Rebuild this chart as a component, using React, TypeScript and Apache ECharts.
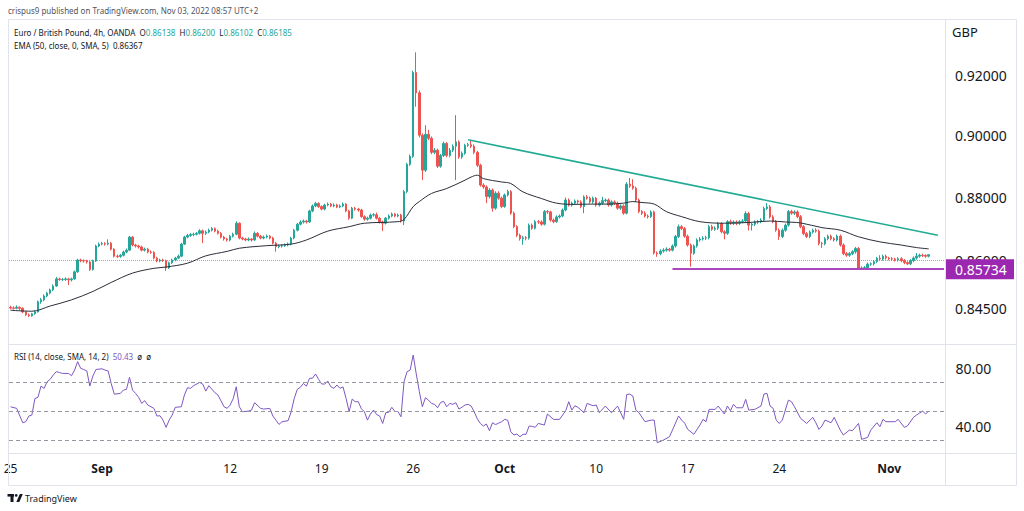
import React, { useEffect, useRef } from "react";
import * as echarts from "echarts";

// ---------- data ----------
const tradingDays = [
  "2022-08-25", "2022-08-26", "2022-08-29", "2022-08-30", "2022-08-31",
  "2022-09-01", "2022-09-02", "2022-09-05", "2022-09-06", "2022-09-07", "2022-09-08", "2022-09-09",
  "2022-09-12", "2022-09-13", "2022-09-14", "2022-09-15", "2022-09-16",
  "2022-09-19", "2022-09-20", "2022-09-21", "2022-09-22", "2022-09-23",
  "2022-09-26", "2022-09-27", "2022-09-28", "2022-09-29", "2022-09-30",
  "2022-10-03", "2022-10-04", "2022-10-05", "2022-10-06", "2022-10-07",
  "2022-10-10", "2022-10-11", "2022-10-12", "2022-10-13", "2022-10-14",
  "2022-10-17", "2022-10-18", "2022-10-19", "2022-10-20", "2022-10-21",
  "2022-10-24", "2022-10-25", "2022-10-26", "2022-10-27", "2022-10-28",
  "2022-10-31", "2022-11-01", "2022-11-02", "2022-11-03", "2022-11-04",
];
const barHours = ["01:00", "05:00", "09:00", "13:00", "17:00", "21:00"];
const futureSlots = 5;

const timeTickLabels: Record<string, string> = {
  "2022-08-25": "25", "2022-09-01": "Sep", "2022-09-12": "12", "2022-09-19": "19",
  "2022-09-26": "26", "2022-10-03": "Oct", "2022-10-10": "10", "2022-10-17": "17",
  "2022-10-24": "24", "2022-11-01": "Nov",
};
const monthLabels = ["Sep", "Oct", "Nov"];

const opens = [
  0.8455, 0.8453, 0.8452, 0.8455, 0.8452, 0.8441, 0.8432, 0.8429, 0.8435, 0.8441,
  0.8472, 0.8478, 0.8490, 0.8499, 0.8509, 0.8521, 0.8543, 0.8541, 0.8541, 0.8543,
  0.8540, 0.8543, 0.8565, 0.8602, 0.8600, 0.8599, 0.8596, 0.8572, 0.8599, 0.8646,
  0.8652, 0.8654, 0.8652, 0.8655, 0.8636, 0.8614, 0.8613, 0.8617, 0.8627, 0.8633,
  0.8674, 0.8649, 0.8646, 0.8643, 0.8633, 0.8636, 0.8627, 0.8626, 0.8608, 0.8599,
  0.8602, 0.8600, 0.8577, 0.8593, 0.8602, 0.8608, 0.8614, 0.8652, 0.8674, 0.8679,
  0.8682, 0.8683, 0.8686, 0.8694, 0.8686, 0.8690, 0.8696, 0.8701, 0.8693, 0.8686,
  0.8674, 0.8668, 0.8665, 0.8677, 0.8683, 0.8718, 0.8671, 0.8668, 0.8665, 0.8668,
  0.8665, 0.8686, 0.8677, 0.8671, 0.8674, 0.8677, 0.8671, 0.8655, 0.8644, 0.8646,
  0.8647, 0.8649, 0.8652, 0.8671, 0.8696, 0.8715, 0.8722, 0.8725, 0.8722, 0.8757,
  0.8773, 0.8781, 0.8771, 0.8763, 0.8776, 0.8779, 0.8773, 0.8776, 0.8770, 0.8773,
  0.8779, 0.8757, 0.8734, 0.8766, 0.8763, 0.8760, 0.8739, 0.8731, 0.8734, 0.8744,
  0.8745, 0.8734, 0.8722, 0.8718, 0.8734, 0.8741, 0.8747, 0.8741, 0.8744, 0.8725,
  0.8819, 0.8907, 0.8933, 0.9210, 0.9142, 0.9002, 0.8888, 0.9005, 0.8992, 0.8946,
  0.8953, 0.8901, 0.8936, 0.8975, 0.8936, 0.8953, 0.8966, 0.8980, 0.8931, 0.8943,
  0.8969, 0.8971, 0.8966, 0.8946, 0.8904, 0.8840, 0.8834, 0.8803, 0.8824, 0.8766,
  0.8814, 0.8798, 0.8771, 0.8808, 0.8819, 0.8750, 0.8707, 0.8680, 0.8669, 0.8672,
  0.8671, 0.8712, 0.8702, 0.8723, 0.8722, 0.8715, 0.8755, 0.8754, 0.8728, 0.8723,
  0.8738, 0.8741, 0.8760, 0.8792, 0.8776, 0.8782, 0.8789, 0.8786, 0.8771, 0.8802,
  0.8798, 0.8786, 0.8798, 0.8776, 0.8782, 0.8790, 0.8792, 0.8776, 0.8786, 0.8782,
  0.8766, 0.8773, 0.8750, 0.8843, 0.8837, 0.8830, 0.8792, 0.8755, 0.8750, 0.8741,
  0.8739, 0.8754, 0.8624, 0.8622, 0.8630, 0.8633, 0.8636, 0.8633, 0.8646, 0.8676,
  0.8707, 0.8701, 0.8677, 0.8649, 0.8623, 0.8646, 0.8665, 0.8668, 0.8671, 0.8672,
  0.8707, 0.8699, 0.8702, 0.8717, 0.8691, 0.8686, 0.8723, 0.8718, 0.8722, 0.8718,
  0.8723, 0.8725, 0.8749, 0.8712, 0.8715, 0.8722, 0.8723, 0.8728, 0.8765, 0.8770,
  0.8738, 0.8723, 0.8696, 0.8676, 0.8696, 0.8712, 0.8755, 0.8750, 0.8754, 0.8739,
  0.8707, 0.8685, 0.8676, 0.8690, 0.8696, 0.8693, 0.8654, 0.8653, 0.8669, 0.8677,
  0.8669, 0.8665, 0.8677, 0.8649, 0.8622, 0.8617, 0.8622, 0.8628, 0.8638, 0.8575,
  0.8577, 0.8578, 0.8589, 0.8590, 0.8597, 0.8607, 0.8605, 0.8614, 0.8608, 0.8606,
  0.8605, 0.8602, 0.8606, 0.8600, 0.8594, 0.8590, 0.8600, 0.8608, 0.8614, 0.8617,
  0.8616, 0.86138,
];

const closes = [
  0.8453, 0.8452, 0.8455, 0.8452, 0.8441, 0.8432, 0.8429, 0.8435, 0.8441, 0.8472,
  0.8478, 0.8490, 0.8499, 0.8509, 0.8521, 0.8543, 0.8541, 0.8541, 0.8543, 0.8540,
  0.8543, 0.8565, 0.8602, 0.8600, 0.8599, 0.8596, 0.8572, 0.8599, 0.8646, 0.8652,
  0.8654, 0.8652, 0.8655, 0.8636, 0.8614, 0.8613, 0.8617, 0.8627, 0.8633, 0.8674,
  0.8649, 0.8646, 0.8643, 0.8633, 0.8636, 0.8627, 0.8626, 0.8608, 0.8599, 0.8602,
  0.8600, 0.8577, 0.8593, 0.8602, 0.8608, 0.8614, 0.8652, 0.8674, 0.8679, 0.8682,
  0.8683, 0.8686, 0.8694, 0.8686, 0.8690, 0.8696, 0.8701, 0.8693, 0.8686, 0.8674,
  0.8668, 0.8665, 0.8677, 0.8683, 0.8718, 0.8671, 0.8668, 0.8665, 0.8668, 0.8665,
  0.8686, 0.8677, 0.8671, 0.8674, 0.8677, 0.8671, 0.8655, 0.8644, 0.8646, 0.8647,
  0.8649, 0.8652, 0.8671, 0.8696, 0.8715, 0.8722, 0.8725, 0.8722, 0.8757, 0.8773,
  0.8781, 0.8771, 0.8763, 0.8776, 0.8779, 0.8773, 0.8776, 0.8770, 0.8773, 0.8779,
  0.8757, 0.8734, 0.8766, 0.8763, 0.8760, 0.8739, 0.8731, 0.8734, 0.8744, 0.8745,
  0.8734, 0.8722, 0.8718, 0.8734, 0.8741, 0.8747, 0.8741, 0.8744, 0.8725, 0.8819,
  0.8907, 0.8933, 0.9210, 0.9142, 0.9002, 0.8888, 0.9005, 0.8992, 0.8946, 0.8953,
  0.8901, 0.8936, 0.8975, 0.8936, 0.8953, 0.8966, 0.8980, 0.8931, 0.8943, 0.8969,
  0.8971, 0.8966, 0.8946, 0.8904, 0.8840, 0.8834, 0.8803, 0.8824, 0.8766, 0.8814,
  0.8798, 0.8771, 0.8808, 0.8819, 0.8750, 0.8707, 0.8680, 0.8669, 0.8672, 0.8671,
  0.8712, 0.8702, 0.8723, 0.8722, 0.8715, 0.8755, 0.8754, 0.8728, 0.8723, 0.8738,
  0.8741, 0.8760, 0.8792, 0.8776, 0.8782, 0.8789, 0.8786, 0.8771, 0.8802, 0.8798,
  0.8786, 0.8798, 0.8776, 0.8782, 0.8790, 0.8792, 0.8776, 0.8786, 0.8782, 0.8766,
  0.8773, 0.8750, 0.8843, 0.8837, 0.8830, 0.8792, 0.8755, 0.8750, 0.8741, 0.8739,
  0.8754, 0.8624, 0.8622, 0.8630, 0.8633, 0.8636, 0.8633, 0.8646, 0.8676, 0.8707,
  0.8701, 0.8677, 0.8649, 0.8623, 0.8646, 0.8665, 0.8668, 0.8671, 0.8672, 0.8707,
  0.8699, 0.8702, 0.8717, 0.8691, 0.8686, 0.8723, 0.8718, 0.8722, 0.8718, 0.8723,
  0.8725, 0.8749, 0.8712, 0.8715, 0.8722, 0.8723, 0.8728, 0.8765, 0.8770, 0.8738,
  0.8723, 0.8696, 0.8676, 0.8696, 0.8712, 0.8755, 0.8750, 0.8754, 0.8739, 0.8707,
  0.8685, 0.8676, 0.8690, 0.8696, 0.8693, 0.8654, 0.8653, 0.8669, 0.8677, 0.8669,
  0.8665, 0.8677, 0.8649, 0.8622, 0.8617, 0.8622, 0.8628, 0.8638, 0.8575, 0.8577,
  0.8578, 0.8589, 0.8590, 0.8597, 0.8607, 0.8605, 0.8614, 0.8608, 0.8606, 0.8605,
  0.8602, 0.8606, 0.8600, 0.8594, 0.8590, 0.8600, 0.8608, 0.8614, 0.8617, 0.8616,
  0.8614, 0.86185,
];

const highs = [
  0.8460, 0.8458, 0.8461, 0.8458, 0.8455, 0.8444, 0.8436, 0.8438, 0.8445, 0.8476,
  0.8484, 0.8495, 0.8503, 0.8513, 0.8526, 0.8549, 0.8547, 0.8546, 0.8548, 0.8546,
  0.8547, 0.8569, 0.8606, 0.8606, 0.8604, 0.8603, 0.8600, 0.8603, 0.8650, 0.8657,
  0.8659, 0.8658, 0.8667, 0.8659, 0.8639, 0.8619, 0.8621, 0.8631, 0.8638, 0.8678,
  0.8677, 0.8653, 0.8650, 0.8647, 0.8641, 0.8640, 0.8632, 0.8630, 0.8612, 0.8606,
  0.8606, 0.8603, 0.8597, 0.8606, 0.8612, 0.8619, 0.8656, 0.8678, 0.8684, 0.8687,
  0.8688, 0.8690, 0.8699, 0.8698, 0.8695, 0.8701, 0.8706, 0.8705, 0.8697, 0.8690,
  0.8678, 0.8672, 0.8681, 0.8688, 0.8724, 0.8721, 0.8675, 0.8672, 0.8673, 0.8671,
  0.8692, 0.8690, 0.8681, 0.8679, 0.8682, 0.8681, 0.8675, 0.8659, 0.8650, 0.8651,
  0.8654, 0.8657, 0.8675, 0.8700, 0.8719, 0.8727, 0.8730, 0.8729, 0.8761, 0.8778,
  0.8786, 0.8785, 0.8775, 0.8780, 0.8784, 0.8783, 0.8781, 0.8780, 0.8778, 0.8784,
  0.8782, 0.8761, 0.8770, 0.8770, 0.8767, 0.8764, 0.8743, 0.8739, 0.8749, 0.8750,
  0.8752, 0.8738, 0.8726, 0.8738, 0.8746, 0.8752, 0.8751, 0.8749, 0.8748, 0.8824,
  0.8912, 0.8939, 0.9216, 0.9278, 0.9150, 0.9008, 0.9035, 0.9020, 0.8998, 0.8960,
  0.8958, 0.8941, 0.8981, 0.8980, 0.8960, 0.8972, 0.9068, 0.8985, 0.8949, 0.8974,
  0.8977, 0.8985, 0.8972, 0.8951, 0.8909, 0.8846, 0.8839, 0.8830, 0.8829, 0.8820,
  0.8820, 0.8803, 0.8813, 0.8825, 0.8824, 0.8755, 0.8712, 0.8685, 0.8678, 0.8677,
  0.8717, 0.8717, 0.8728, 0.8728, 0.8727, 0.8760, 0.8760, 0.8758, 0.8733, 0.8743,
  0.8746, 0.8765, 0.8800, 0.8797, 0.8787, 0.8794, 0.8793, 0.8791, 0.8807, 0.8808,
  0.8803, 0.8803, 0.8802, 0.8787, 0.8802, 0.8797, 0.8797, 0.8791, 0.8791, 0.8787,
  0.8778, 0.8778, 0.8849, 0.8863, 0.8859, 0.8835, 0.8797, 0.8760, 0.8756, 0.8746,
  0.8759, 0.8758, 0.8629, 0.8636, 0.8639, 0.8642, 0.8640, 0.8651, 0.8681, 0.8714,
  0.8712, 0.8706, 0.8682, 0.8654, 0.8651, 0.8670, 0.8674, 0.8677, 0.8678, 0.8713,
  0.8713, 0.8708, 0.8722, 0.8721, 0.8696, 0.8728, 0.8729, 0.8727, 0.8727, 0.8728,
  0.8731, 0.8756, 0.8754, 0.8720, 0.8727, 0.8728, 0.8734, 0.8771, 0.8782, 0.8776,
  0.8744, 0.8728, 0.8701, 0.8701, 0.8717, 0.8760, 0.8761, 0.8759, 0.8759, 0.8744,
  0.8712, 0.8690, 0.8695, 0.8701, 0.8702, 0.8698, 0.8659, 0.8674, 0.8682, 0.8682,
  0.8674, 0.8682, 0.8682, 0.8654, 0.8627, 0.8627, 0.8633, 0.8643, 0.8643, 0.8582,
  0.8583, 0.8594, 0.8595, 0.8602, 0.8612, 0.8617, 0.8619, 0.8619, 0.8612, 0.8611,
  0.8609, 0.8611, 0.8611, 0.8605, 0.8598, 0.8605, 0.8613, 0.8624, 0.8622, 0.8622,
  0.8620, 0.86200,
];

const lows = [
  0.8449, 0.8448, 0.8449, 0.8447, 0.8437, 0.8428, 0.8425, 0.8426, 0.8432, 0.8439,
  0.8466, 0.8474, 0.8486, 0.8495, 0.8505, 0.8518, 0.8537, 0.8536, 0.8537, 0.8524,
  0.8535, 0.8540, 0.8562, 0.8595, 0.8594, 0.8591, 0.8568, 0.8569, 0.8596, 0.8642,
  0.8648, 0.8647, 0.8648, 0.8632, 0.8610, 0.8608, 0.8609, 0.8613, 0.8623, 0.8630,
  0.8645, 0.8641, 0.8638, 0.8629, 0.8629, 0.8623, 0.8621, 0.8604, 0.8595, 0.8595,
  0.8596, 0.8568, 0.8574, 0.8590, 0.8598, 0.8605, 0.8611, 0.8649, 0.8670, 0.8675,
  0.8677, 0.8679, 0.8682, 0.8655, 0.8681, 0.8686, 0.8692, 0.8689, 0.8682, 0.8670,
  0.8663, 0.8660, 0.8661, 0.8673, 0.8680, 0.8667, 0.8664, 0.8661, 0.8661, 0.8660,
  0.8662, 0.8673, 0.8667, 0.8667, 0.8670, 0.8667, 0.8651, 0.8628, 0.8639, 0.8641,
  0.8643, 0.8645, 0.8648, 0.8667, 0.8692, 0.8711, 0.8717, 0.8717, 0.8719, 0.8753,
  0.8769, 0.8767, 0.8759, 0.8759, 0.8772, 0.8769, 0.8769, 0.8766, 0.8766, 0.8769,
  0.8753, 0.8729, 0.8731, 0.8758, 0.8755, 0.8735, 0.8726, 0.8726, 0.8730, 0.8739,
  0.8730, 0.8717, 0.8693, 0.8714, 0.8730, 0.8737, 0.8737, 0.8737, 0.8720, 0.8712,
  0.8814, 0.8902, 0.8928, 0.9096, 0.8995, 0.8856, 0.8882, 0.8986, 0.8940, 0.8940,
  0.8895, 0.8896, 0.8931, 0.8930, 0.8930, 0.8947, 0.8856, 0.8925, 0.8925, 0.8938,
  0.8964, 0.8960, 0.8940, 0.8898, 0.8835, 0.8828, 0.8782, 0.8797, 0.8755, 0.8761,
  0.8793, 0.8766, 0.8767, 0.8803, 0.8745, 0.8702, 0.8674, 0.8663, 0.8650, 0.8664,
  0.8666, 0.8697, 0.8698, 0.8716, 0.8710, 0.8711, 0.8748, 0.8723, 0.8718, 0.8719,
  0.8733, 0.8737, 0.8756, 0.8771, 0.8771, 0.8777, 0.8780, 0.8766, 0.8750, 0.8793,
  0.8781, 0.8781, 0.8771, 0.8771, 0.8777, 0.8785, 0.8771, 0.8771, 0.8776, 0.8761,
  0.8760, 0.8745, 0.8746, 0.8831, 0.8825, 0.8786, 0.8750, 0.8744, 0.8736, 0.8733,
  0.8735, 0.8619, 0.8612, 0.8617, 0.8625, 0.8628, 0.8628, 0.8629, 0.8641, 0.8671,
  0.8696, 0.8672, 0.8644, 0.8581, 0.8618, 0.8641, 0.8660, 0.8663, 0.8665, 0.8667,
  0.8694, 0.8694, 0.8697, 0.8686, 0.8667, 0.8681, 0.8713, 0.8712, 0.8712, 0.8713,
  0.8718, 0.8720, 0.8695, 0.8695, 0.8709, 0.8716, 0.8718, 0.8723, 0.8760, 0.8733,
  0.8718, 0.8691, 0.8665, 0.8671, 0.8691, 0.8707, 0.8745, 0.8744, 0.8734, 0.8702,
  0.8680, 0.8671, 0.8671, 0.8685, 0.8688, 0.8648, 0.8640, 0.8648, 0.8664, 0.8664,
  0.8660, 0.8660, 0.8644, 0.8617, 0.8612, 0.8612, 0.8617, 0.8622, 0.8573, 0.8573,
  0.8573, 0.8574, 0.8584, 0.8585, 0.8592, 0.8600, 0.8600, 0.8603, 0.8601, 0.8600,
  0.8597, 0.8597, 0.8595, 0.8589, 0.8586, 0.8586, 0.8595, 0.8603, 0.8609, 0.8611,
  0.8609, 0.86102,
];

const emaPoints: [number, number][] = [
  [0, 0.8446], [7, 0.8443], [13, 0.8459], [20, 0.8478], [27, 0.8504], [33, 0.8532],
  [40, 0.8561], [47, 0.8576], [51, 0.858], [58, 0.8592], [64, 0.8615], [71, 0.8629],
  [75, 0.8639], [84, 0.8647], [92, 0.8652], [97, 0.8665], [104, 0.8693], [111, 0.8707],
  [116, 0.8718], [127, 0.8723], [129, 0.873], [132, 0.8771], [134, 0.8787], [138, 0.8813],
  [143, 0.8829], [149, 0.8856], [151, 0.8866], [153, 0.8872], [155, 0.8861], [161, 0.885],
  [164, 0.8845], [168, 0.8818], [174, 0.8797], [179, 0.8782], [185, 0.8778], [190, 0.8779],
  [196, 0.8779], [201, 0.8782], [204, 0.8787], [207, 0.8784], [211, 0.8779], [215, 0.8755],
  [220, 0.8739], [226, 0.8723], [234, 0.8718], [243, 0.8721], [249, 0.8725], [254, 0.8722],
  [259, 0.8719], [266, 0.8704], [272, 0.8696], [278, 0.8675], [285, 0.8659], [292, 0.8649],
  [297, 0.8641], [301, 0.8637],
];

// RSI(14): [bar index, value]
const rsiPoints: [number, number][] = [
  [0, 53.3], [2, 52.2], [4, 42.3], [5, 43], [6, 46.9], [7, 47.6], [8, 59], [9, 59.8], [10, 67.6],
  [11, 66], [12, 70.6], [13, 72.2], [14, 75.2], [15, 77.5], [16, 77], [17, 76.3], [19, 76.3],
  [20, 74.7], [21, 78.6], [22, 84.4], [23, 79.8], [24, 79], [25, 78], [26, 67.6], [27, 74.5],
  [28, 79], [30, 79.5], [31, 78.6], [32, 78], [33, 69.4], [34, 62], [36, 62.5], [37, 64.8],
  [38, 65.3], [39, 73.6], [40, 64.8], [41, 62.5], [42, 59.8], [43, 55.6], [44, 57.5], [45, 54.5],
  [47, 52.2], [48, 46.9], [49, 47.1], [50, 44], [51, 39.1], [52, 44.1], [53, 47.6], [54, 52.9],
  [56, 53.3], [57, 61.4], [58, 66.4], [59, 66], [60, 67.8], [62, 70.1], [63, 69], [64, 64.1],
  [65, 67.8], [67, 63], [68, 61.4], [70, 53.3], [71, 52.2], [72, 54.5], [73, 59], [74, 67.1],
  [75, 53.3], [76, 49.9], [78, 50.3], [79, 51], [80, 56.1], [82, 52.2], [83, 51.7], [85, 52.2],
  [86, 46.9], [87, 44.1], [88, 41.1], [89, 43], [91, 43.7], [92, 49.9], [93, 59], [94, 65.3],
  [95, 66.7], [96, 69.4], [97, 67.5], [98, 72.9], [99, 73], [100, 75.9], [101, 72.2], [102, 69],
  [103, 69], [104, 71], [105, 67.1], [106, 66], [107, 68.3], [108, 66], [109, 67], [110, 59],
  [111, 49.9], [112, 58.6], [113, 56.8], [114, 56.8], [115, 52], [116, 49.9], [117, 44.1],
  [118, 48.3], [119, 51], [120, 48], [121, 46.9], [122, 41.8], [123, 49.2], [124, 49.5],
  [125, 52.9], [126, 50], [127, 50], [128, 46.4], [129, 70.6], [130, 77.5], [131, 78.6],
  [132, 89], [133, 76], [134, 64], [135, 53.3], [136, 59.5], [137, 57.9], [138, 55.6], [139, 55],
  [140, 52.6], [141, 56.3], [142, 57], [143, 53.3], [144, 55.6], [145, 55], [146, 56.1],
  [147, 51.7], [148, 53], [149, 54.5], [150, 55], [151, 53.8], [152, 49.9], [153, 45],
  [154, 41.8], [155, 40], [156, 41.4], [157, 36.8], [158, 42.3], [159, 41], [160, 42], [161, 43],
  [162, 44.6], [163, 44], [164, 36.1], [165, 33.8], [166, 34.5], [167, 32.6], [168, 34.3],
  [169, 34.3], [170, 40], [171, 39.8], [172, 39.1], [173, 41.8], [175, 40.7], [176, 48.3],
  [178, 44.6], [180, 44.6], [182, 50.6], [183, 56.8], [184, 51], [185, 54], [186, 52.9],
  [188, 49.2], [189, 55.6], [191, 54], [192, 54.5], [193, 49.2], [195, 53.8], [197, 49.2],
  [199, 53.8], [201, 44.6], [202, 61.8], [203, 62], [204, 60.7], [205, 51], [206, 49.2], [208, 43],
  [210, 44.1], [211, 44.1], [212, 28.5], [214, 30.3], [216, 32.6], [217, 37.2], [219, 46.9],
  [220, 44.1], [221, 42], [222, 37.7], [224, 34.3], [226, 40.7], [227, 44.6], [228, 43],
  [229, 51.5], [231, 51.5], [232, 53.8], [233, 51], [234, 48.3], [235, 53.8], [236, 50.6],
  [237, 55], [238, 52.6], [240, 52.6], [241, 58.4], [242, 51], [244, 51.5], [246, 53.8],
  [247, 62.1], [248, 62.5], [249, 53.8], [250, 52.2], [251, 44.1], [252, 41.8], [253, 44.1],
  [255, 57.9], [256, 56.8], [257, 53.3], [259, 45.3], [261, 41.8], [263, 46], [264, 42.3],
  [265, 37.7], [266, 40], [267, 44.1], [269, 42.3], [270, 46], [272, 37.2], [273, 33.8],
  [275, 37.2], [276, 36.8], [278, 41.8], [279, 30.8], [281, 32.2], [282, 37.2], [284, 42.3],
  [285, 39.5], [286, 44.6], [287, 43], [290, 43], [291, 44.6], [293, 39.1], [294, 40], [296, 46],
  [297, 47.6], [298, 49], [299, 50.3], [300, 48.3], [301, 50.43],
];

const priceTicks = [0.92, 0.9, 0.88, 0.86, 0.845];
const rsiTicks = [40, 80];
const rsiLevels = [70, 50, 30];
const lastPrice = 0.86185;
const supportLevel = 0.85734;
const supportStartBar = 217;
const trendStart: [number, number] = [150, 0.8987];
const trendEnd: [number, number] = [304, 0.868];

// ---------- styling ----------
const FONT = "'Noto Sans', 'DejaVu Sans', sans-serif";
const UP = "#26a69a";
const DOWN = "#ef5350";
const TEXT = "#131722";
const FRAME = "#e0e3eb";

const categories: string[] = [];
for (const d of tradingDays) for (const h of barHours) categories.push(`${d} ${h}`);
categories.length = closes.length + futureSlots;

const labelFor = (v: string) => {
  const [d, h] = v.split(" ");
  return h === barHours[0] ? timeTickLabels[d] : undefined;
};

export default function App() {
  const ref = useRef<HTMLDivElement>(null);
  useEffect(() => {
    document.body.style.margin = "0";
    if (!ref.current) return;
    const chart = echarts.init(ref.current, undefined, { renderer: "svg" });
    const candleData = closes.map((c, i) => [opens[i], c, lows[i], highs[i]]);
    const hidden = { show: false };
    const option: any = {
      animation: false,
      backgroundColor: "#ffffff",
      grid: [
        { left: 9, right: 78.5, top: 19, height: 325 },
        { left: 9, right: 78.5, top: 344, height: 109 },
      ],
      xAxis: [
        {
          type: "category", gridIndex: 0, data: categories, boundaryGap: true,
          axisLine: hidden, axisTick: hidden, axisLabel: hidden, splitLine: hidden,
        },
        {
          type: "category", gridIndex: 1, data: categories, boundaryGap: true,
          axisLine: hidden, axisTick: hidden, splitLine: hidden,
          axisLabel: {
            show: true,
            interval: (_i: number, v: string) => !!labelFor(v),
            formatter: (v: string) => {
              const l = labelFor(v) || "";
              return monthLabels.includes(l) ? `{m|${l}}` : l;
            },
            margin: 9,
            fontSize: 12,
            fontFamily: FONT,
            color: TEXT,
            rich: { m: { fontSize: 12, fontWeight: "bold", fontFamily: FONT, color: TEXT } },
          },
        },
      ],
      yAxis: [
        {
          type: "log", logBase: 10, gridIndex: 0, position: "right",
          min: 0.83428, max: 0.93913,
          axisLine: hidden, axisTick: hidden, axisLabel: hidden, splitLine: hidden,
        },
        {
          type: "value", gridIndex: 1, position: "right", min: 21.4, max: 96.6,
          axisLine: hidden, axisTick: hidden, splitLine: hidden,
          axisLabel: {
            customValues: rsiTicks,
            formatter: (v: number) => v.toFixed(2),
            fontSize: 14, fontFamily: FONT, color: TEXT, margin: 10,
          },
        },
      ],
      series: [
        {
          type: "candlestick",
          xAxisIndex: 0, yAxisIndex: 0,
          data: candleData,
          barWidth: 2,
          itemStyle: { color: UP, color0: DOWN, borderColor: UP, borderColor0: DOWN, borderWidth: 1 },
          emphasis: { disabled: true },
          markLine: {
            silent: true, symbol: ["none", "none"], label: { show: false }, animation: false,
            data: [
              { yAxis: lastPrice, lineStyle: { color: UP, type: "dotted", width: 1, opacity: 0.7 } },
              [
                { coord: [categories[trendStart[0]], trendStart[1]], lineStyle: { color: "#22ab94", width: 1.6, type: "solid" } },
                { coord: [categories[trendEnd[0]], trendEnd[1]] },
              ],
              [
                { coord: [categories[supportStartBar], supportLevel], lineStyle: { color: "#ab47bc", width: 2, type: "solid" } },
                { coord: [categories[categories.length - 1], supportLevel] },
              ],
            ],
          },
        },
        {
          type: "line", name: "EMA",
          xAxisIndex: 0, yAxisIndex: 0,
          data: emaPoints,
          smooth: 0.35, symbol: "none",
          lineStyle: { color: "#2a2e39", width: 1 },
          z: 3,
        },
        {
          type: "line", name: "RSI",
          xAxisIndex: 1, yAxisIndex: 1,
          data: rsiPoints,
          symbol: "none",
          lineStyle: { color: "#7e57c2", width: 1 },
          markLine: {
            silent: true, symbol: ["none", "none"], label: { show: false }, animation: false,
            data: rsiLevels.map((v) => ({ yAxis: v })),
            lineStyle: { color: "#9598a1", type: [4, 3], width: 1 },
          },
        },
      ],
    };
    chart.setOption(option);

    const py = (v: number) => chart.convertToPixel({ yAxisIndex: 0 }, v) as unknown as number;
    const line = (x1: number, y1: number, x2: number, y2: number) => ({
      type: "line", silent: true, z: 100,
      shape: { x1, y1, x2, y2 }, style: { stroke: FRAME, lineWidth: 1 },
    });
    const txt = (x: number, y: number, text: string, fontSize: number, fill: string, extra: any = {}) => ({
      type: "text", x, y, silent: true, z: 110,
      style: { text, fontSize, fontFamily: FONT, fill, textAlign: "left", textVerticalAlign: "middle", ...extra },
    });
    const small = 8;
    const legendRich = {
      d: { fill: TEXT, color: TEXT, fontSize: small, fontFamily: FONT },
      g: { fill: UP, color: UP, fontSize: small, fontFamily: FONT },
      p: { fill: "#7e57c2", color: "#7e57c2", fontSize: small, fontFamily: FONT },
    };
    const sy = py(supportLevel);
    const graphic: any[] = [
      line(8.5, 19.5, 1016.5, 19.5),
      line(8.5, 485.5, 1016.5, 485.5),
      line(8.5, 19.5, 8.5, 485.5),
      line(1016.5, 19.5, 1016.5, 485.5),
      line(945.5, 19.5, 945.5, 485.5),
      line(8.5, 344.5, 1016.5, 344.5),
      line(8.5, 453.5, 1016.5, 453.5),
      txt(8, 10, "crispus9 published on TradingView.com, Nov 03, 2022 08:57 UTC+2", small, "#50535e"),
      txt(14, 32,
        "{d|Euro / British Pound, 4h, OANDA  O}{g|0.86138}{d|  H}{g|0.86200}{d|  L}{g|0.86102}{d|  C}{g|0.86185}",
        small, TEXT, { rich: legendRich }),
      txt(14, 45, "EMA (50, close, 0, SMA, 5)  0.86367", small, TEXT),
      txt(14, 356, "{d|RSI (14, close, SMA, 14, 2)  }{p|50.43}{d|  ø  ø}", small, TEXT, { rich: legendRich }),
      txt(952, 32, "GBP", 13, TEXT),
      ...priceTicks.map((v) => txt(955, py(v), v.toFixed(5), 14, TEXT)),
      {
        type: "rect", silent: true, z: 120,
        shape: { x: 946, y: sy - 10, width: 68, height: 20 },
        style: { fill: "#9c27b0" },
      },
      { ...txt(955, sy, supportLevel.toFixed(5), 14, "#ffffff"), z: 121 },
      // TradingView logo
      { type: "rect", silent: true, z: 110, shape: { x: 7.5, y: 494, width: 6.5, height: 2.6 }, style: { fill: TEXT } },
      { type: "rect", silent: true, z: 110, shape: { x: 10.5, y: 494, width: 3, height: 8 }, style: { fill: TEXT } },
      { type: "circle", silent: true, z: 110, shape: { cx: 16.2, cy: 495.4, r: 1.4 }, style: { fill: TEXT } },
      { type: "polygon", silent: true, z: 110, shape: { points: [[16.3, 502], [19.8, 494], [22.8, 494], [19.3, 502]] }, style: { fill: TEXT } },
      txt(25, 498.5, "TradingView", 9, TEXT),
    ];
    chart.setOption({ graphic });

    return () => chart.dispose();
  }, []);
  return <div ref={ref} style={{ width: 1024, height: 511 }} />;
}
